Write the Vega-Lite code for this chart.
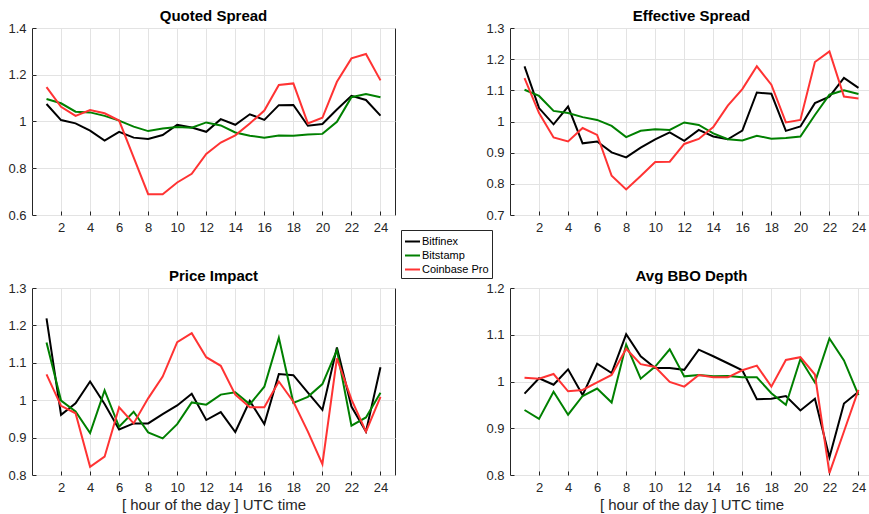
{
"$schema": "https://vega.github.io/schema/vega-lite/v6.json",
"background": "white",
"padding": {"left": 7, "top": 8, "right": 0, "bottom": 0},
"bounds": "flush",
"columns": 2,
"spacing": {"row": 73, "column": 115},
"datasets": {"d": [
{"m":"QS","h":1,"e":"Bitfinex","v":1.075},{"m":"QS","h":2,"e":"Bitfinex","v":1.006},{"m":"QS","h":3,"e":"Bitfinex","v":0.992},{"m":"QS","h":4,"e":"Bitfinex","v":0.961},{"m":"QS","h":5,"e":"Bitfinex","v":0.918},{"m":"QS","h":6,"e":"Bitfinex","v":0.956},{"m":"QS","h":7,"e":"Bitfinex","v":0.931},{"m":"QS","h":8,"e":"Bitfinex","v":0.925},{"m":"QS","h":9,"e":"Bitfinex","v":0.942},{"m":"QS","h":10,"e":"Bitfinex","v":0.986},{"m":"QS","h":11,"e":"Bitfinex","v":0.974},{"m":"QS","h":12,"e":"Bitfinex","v":0.956},{"m":"QS","h":13,"e":"Bitfinex","v":1.010},{"m":"QS","h":14,"e":"Bitfinex","v":0.986},{"m":"QS","h":15,"e":"Bitfinex","v":1.031},{"m":"QS","h":16,"e":"Bitfinex","v":1.007},{"m":"QS","h":17,"e":"Bitfinex","v":1.070},{"m":"QS","h":18,"e":"Bitfinex","v":1.071},{"m":"QS","h":19,"e":"Bitfinex","v":0.982},{"m":"QS","h":20,"e":"Bitfinex","v":0.989},{"m":"QS","h":21,"e":"Bitfinex","v":1.051},{"m":"QS","h":22,"e":"Bitfinex","v":1.110},{"m":"QS","h":23,"e":"Bitfinex","v":1.092},{"m":"QS","h":24,"e":"Bitfinex","v":1.025},
{"m":"QS","h":1,"e":"Bitstamp","v":1.096},{"m":"QS","h":2,"e":"Bitstamp","v":1.078},{"m":"QS","h":3,"e":"Bitstamp","v":1.042},{"m":"QS","h":4,"e":"Bitstamp","v":1.039},{"m":"QS","h":5,"e":"Bitstamp","v":1.024},{"m":"QS","h":6,"e":"Bitstamp","v":1.004},{"m":"QS","h":7,"e":"Bitstamp","v":0.978},{"m":"QS","h":8,"e":"Bitstamp","v":0.959},{"m":"QS","h":9,"e":"Bitstamp","v":0.970},{"m":"QS","h":10,"e":"Bitstamp","v":0.976},{"m":"QS","h":11,"e":"Bitstamp","v":0.973},{"m":"QS","h":12,"e":"Bitstamp","v":0.996},{"m":"QS","h":13,"e":"Bitstamp","v":0.983},{"m":"QS","h":14,"e":"Bitstamp","v":0.953},{"m":"QS","h":15,"e":"Bitstamp","v":0.939},{"m":"QS","h":16,"e":"Bitstamp","v":0.931},{"m":"QS","h":17,"e":"Bitstamp","v":0.940},{"m":"QS","h":18,"e":"Bitstamp","v":0.939},{"m":"QS","h":19,"e":"Bitstamp","v":0.944},{"m":"QS","h":20,"e":"Bitstamp","v":0.947},{"m":"QS","h":21,"e":"Bitstamp","v":0.999},{"m":"QS","h":22,"e":"Bitstamp","v":1.104},{"m":"QS","h":23,"e":"Bitstamp","v":1.118},{"m":"QS","h":24,"e":"Bitstamp","v":1.104},
{"m":"QS","h":1,"e":"Coinbase Pro","v":1.147},{"m":"QS","h":2,"e":"Coinbase Pro","v":1.063},{"m":"QS","h":3,"e":"Coinbase Pro","v":1.024},{"m":"QS","h":4,"e":"Coinbase Pro","v":1.049},{"m":"QS","h":5,"e":"Coinbase Pro","v":1.035},{"m":"QS","h":6,"e":"Coinbase Pro","v":1.004},{"m":"QS","h":7,"e":"Coinbase Pro","v":0.847},{"m":"QS","h":8,"e":"Coinbase Pro","v":0.689},{"m":"QS","h":9,"e":"Coinbase Pro","v":0.689},{"m":"QS","h":10,"e":"Coinbase Pro","v":0.739},{"m":"QS","h":11,"e":"Coinbase Pro","v":0.776},{"m":"QS","h":12,"e":"Coinbase Pro","v":0.861},{"m":"QS","h":13,"e":"Coinbase Pro","v":0.910},{"m":"QS","h":14,"e":"Coinbase Pro","v":0.941},{"m":"QS","h":15,"e":"Coinbase Pro","v":0.991},{"m":"QS","h":16,"e":"Coinbase Pro","v":1.047},{"m":"QS","h":17,"e":"Coinbase Pro","v":1.156},{"m":"QS","h":18,"e":"Coinbase Pro","v":1.163},{"m":"QS","h":19,"e":"Coinbase Pro","v":0.992},{"m":"QS","h":20,"e":"Coinbase Pro","v":1.016},{"m":"QS","h":21,"e":"Coinbase Pro","v":1.170},{"m":"QS","h":22,"e":"Coinbase Pro","v":1.270},{"m":"QS","h":23,"e":"Coinbase Pro","v":1.289},{"m":"QS","h":24,"e":"Coinbase Pro","v":1.176},
{"m":"ES","h":1,"e":"Bitfinex","v":1.177},{"m":"ES","h":2,"e":"Bitfinex","v":1.043},{"m":"ES","h":3,"e":"Bitfinex","v":0.991},{"m":"ES","h":4,"e":"Bitfinex","v":1.048},{"m":"ES","h":5,"e":"Bitfinex","v":0.930},{"m":"ES","h":6,"e":"Bitfinex","v":0.936},{"m":"ES","h":7,"e":"Bitfinex","v":0.901},{"m":"ES","h":8,"e":"Bitfinex","v":0.885},{"m":"ES","h":9,"e":"Bitfinex","v":0.916},{"m":"ES","h":10,"e":"Bitfinex","v":0.943},{"m":"ES","h":11,"e":"Bitfinex","v":0.965},{"m":"ES","h":12,"e":"Bitfinex","v":0.938},{"m":"ES","h":13,"e":"Bitfinex","v":0.973},{"m":"ES","h":14,"e":"Bitfinex","v":0.952},{"m":"ES","h":15,"e":"Bitfinex","v":0.943},{"m":"ES","h":16,"e":"Bitfinex","v":0.971},{"m":"ES","h":17,"e":"Bitfinex","v":1.093},{"m":"ES","h":18,"e":"Bitfinex","v":1.089},{"m":"ES","h":19,"e":"Bitfinex","v":0.970},{"m":"ES","h":20,"e":"Bitfinex","v":0.984},{"m":"ES","h":21,"e":"Bitfinex","v":1.059},{"m":"ES","h":22,"e":"Bitfinex","v":1.080},{"m":"ES","h":23,"e":"Bitfinex","v":1.140},{"m":"ES","h":24,"e":"Bitfinex","v":1.108},
{"m":"ES","h":1,"e":"Bitstamp","v":1.102},{"m":"ES","h":2,"e":"Bitstamp","v":1.082},{"m":"ES","h":3,"e":"Bitstamp","v":1.034},{"m":"ES","h":4,"e":"Bitstamp","v":1.027},{"m":"ES","h":5,"e":"Bitstamp","v":1.014},{"m":"ES","h":6,"e":"Bitstamp","v":1.005},{"m":"ES","h":7,"e":"Bitstamp","v":0.986},{"m":"ES","h":8,"e":"Bitstamp","v":0.950},{"m":"ES","h":9,"e":"Bitstamp","v":0.970},{"m":"ES","h":10,"e":"Bitstamp","v":0.975},{"m":"ES","h":11,"e":"Bitstamp","v":0.973},{"m":"ES","h":12,"e":"Bitstamp","v":0.997},{"m":"ES","h":13,"e":"Bitstamp","v":0.989},{"m":"ES","h":14,"e":"Bitstamp","v":0.962},{"m":"ES","h":15,"e":"Bitstamp","v":0.943},{"m":"ES","h":16,"e":"Bitstamp","v":0.939},{"m":"ES","h":17,"e":"Bitstamp","v":0.954},{"m":"ES","h":18,"e":"Bitstamp","v":0.945},{"m":"ES","h":19,"e":"Bitstamp","v":0.947},{"m":"ES","h":20,"e":"Bitstamp","v":0.952},{"m":"ES","h":21,"e":"Bitstamp","v":1.021},{"m":"ES","h":22,"e":"Bitstamp","v":1.086},{"m":"ES","h":23,"e":"Bitstamp","v":1.100},{"m":"ES","h":24,"e":"Bitstamp","v":1.088},
{"m":"ES","h":1,"e":"Coinbase Pro","v":1.139},{"m":"ES","h":2,"e":"Coinbase Pro","v":1.027},{"m":"ES","h":3,"e":"Coinbase Pro","v":0.949},{"m":"ES","h":4,"e":"Coinbase Pro","v":0.936},{"m":"ES","h":5,"e":"Coinbase Pro","v":0.979},{"m":"ES","h":6,"e":"Coinbase Pro","v":0.957},{"m":"ES","h":7,"e":"Coinbase Pro","v":0.826},{"m":"ES","h":8,"e":"Coinbase Pro","v":0.782},{"m":"ES","h":9,"e":"Coinbase Pro","v":0.825},{"m":"ES","h":10,"e":"Coinbase Pro","v":0.870},{"m":"ES","h":11,"e":"Coinbase Pro","v":0.871},{"m":"ES","h":12,"e":"Coinbase Pro","v":0.928},{"m":"ES","h":13,"e":"Coinbase Pro","v":0.944},{"m":"ES","h":14,"e":"Coinbase Pro","v":0.982},{"m":"ES","h":15,"e":"Coinbase Pro","v":1.051},{"m":"ES","h":16,"e":"Coinbase Pro","v":1.104},{"m":"ES","h":17,"e":"Coinbase Pro","v":1.177},{"m":"ES","h":18,"e":"Coinbase Pro","v":1.118},{"m":"ES","h":19,"e":"Coinbase Pro","v":0.997},{"m":"ES","h":20,"e":"Coinbase Pro","v":1.005},{"m":"ES","h":21,"e":"Coinbase Pro","v":1.191},{"m":"ES","h":22,"e":"Coinbase Pro","v":1.225},{"m":"ES","h":23,"e":"Coinbase Pro","v":1.080},{"m":"ES","h":24,"e":"Coinbase Pro","v":1.074},
{"m":"PI","h":1,"e":"Bitfinex","v":1.219},{"m":"PI","h":2,"e":"Bitfinex","v":0.961},{"m":"PI","h":3,"e":"Bitfinex","v":0.992},{"m":"PI","h":4,"e":"Bitfinex","v":1.050},{"m":"PI","h":5,"e":"Bitfinex","v":0.990},{"m":"PI","h":6,"e":"Bitfinex","v":0.922},{"m":"PI","h":7,"e":"Bitfinex","v":0.938},{"m":"PI","h":8,"e":"Bitfinex","v":0.938},{"m":"PI","h":9,"e":"Bitfinex","v":0.963},{"m":"PI","h":10,"e":"Bitfinex","v":0.986},{"m":"PI","h":11,"e":"Bitfinex","v":1.017},{"m":"PI","h":12,"e":"Bitfinex","v":0.947},{"m":"PI","h":13,"e":"Bitfinex","v":0.968},{"m":"PI","h":14,"e":"Bitfinex","v":0.915},{"m":"PI","h":15,"e":"Bitfinex","v":0.998},{"m":"PI","h":16,"e":"Bitfinex","v":0.936},{"m":"PI","h":17,"e":"Bitfinex","v":1.070},{"m":"PI","h":18,"e":"Bitfinex","v":1.067},{"m":"PI","h":19,"e":"Bitfinex","v":1.020},{"m":"PI","h":20,"e":"Bitfinex","v":0.974},{"m":"PI","h":21,"e":"Bitfinex","v":1.141},{"m":"PI","h":22,"e":"Bitfinex","v":0.983},{"m":"PI","h":23,"e":"Bitfinex","v":0.916},{"m":"PI","h":24,"e":"Bitfinex","v":1.088},
{"m":"PI","h":1,"e":"Bitstamp","v":1.154},{"m":"PI","h":2,"e":"Bitstamp","v":0.999},{"m":"PI","h":3,"e":"Bitstamp","v":0.970},{"m":"PI","h":4,"e":"Bitstamp","v":0.912},{"m":"PI","h":5,"e":"Bitstamp","v":1.026},{"m":"PI","h":6,"e":"Bitstamp","v":0.929},{"m":"PI","h":7,"e":"Bitstamp","v":0.969},{"m":"PI","h":8,"e":"Bitstamp","v":0.914},{"m":"PI","h":9,"e":"Bitstamp","v":0.898},{"m":"PI","h":10,"e":"Bitstamp","v":0.936},{"m":"PI","h":11,"e":"Bitstamp","v":0.994},{"m":"PI","h":12,"e":"Bitstamp","v":0.988},{"m":"PI","h":13,"e":"Bitstamp","v":1.015},{"m":"PI","h":14,"e":"Bitstamp","v":1.021},{"m":"PI","h":15,"e":"Bitstamp","v":0.989},{"m":"PI","h":16,"e":"Bitstamp","v":1.036},{"m":"PI","h":17,"e":"Bitstamp","v":1.167},{"m":"PI","h":18,"e":"Bitstamp","v":0.993},{"m":"PI","h":19,"e":"Bitstamp","v":1.009},{"m":"PI","h":20,"e":"Bitstamp","v":1.043},{"m":"PI","h":21,"e":"Bitstamp","v":1.134},{"m":"PI","h":22,"e":"Bitstamp","v":0.932},{"m":"PI","h":23,"e":"Bitstamp","v":0.954},{"m":"PI","h":24,"e":"Bitstamp","v":1.020},
{"m":"PI","h":1,"e":"Coinbase Pro","v":1.069},{"m":"PI","h":2,"e":"Coinbase Pro","v":0.985},{"m":"PI","h":3,"e":"Coinbase Pro","v":0.965},{"m":"PI","h":4,"e":"Coinbase Pro","v":0.822},{"m":"PI","h":5,"e":"Coinbase Pro","v":0.849},{"m":"PI","h":6,"e":"Coinbase Pro","v":0.981},{"m":"PI","h":7,"e":"Coinbase Pro","v":0.938},{"m":"PI","h":8,"e":"Coinbase Pro","v":1.005},{"m":"PI","h":9,"e":"Coinbase Pro","v":1.063},{"m":"PI","h":10,"e":"Coinbase Pro","v":1.155},{"m":"PI","h":11,"e":"Coinbase Pro","v":1.179},{"m":"PI","h":12,"e":"Coinbase Pro","v":1.115},{"m":"PI","h":13,"e":"Coinbase Pro","v":1.092},{"m":"PI","h":14,"e":"Coinbase Pro","v":1.015},{"m":"PI","h":15,"e":"Coinbase Pro","v":0.981},{"m":"PI","h":16,"e":"Coinbase Pro","v":0.981},{"m":"PI","h":17,"e":"Coinbase Pro","v":1.050},{"m":"PI","h":18,"e":"Coinbase Pro","v":0.996},{"m":"PI","h":19,"e":"Coinbase Pro","v":0.916},{"m":"PI","h":20,"e":"Coinbase Pro","v":0.829},{"m":"PI","h":21,"e":"Coinbase Pro","v":1.112},{"m":"PI","h":22,"e":"Coinbase Pro","v":1.002},{"m":"PI","h":23,"e":"Coinbase Pro","v":0.916},{"m":"PI","h":24,"e":"Coinbase Pro","v":1.009},
{"m":"BD","h":1,"e":"Bitfinex","v":0.974},{"m":"BD","h":2,"e":"Bitfinex","v":1.007},{"m":"BD","h":3,"e":"Bitfinex","v":0.993},{"m":"BD","h":4,"e":"Bitfinex","v":1.026},{"m":"BD","h":5,"e":"Bitfinex","v":0.971},{"m":"BD","h":6,"e":"Bitfinex","v":1.038},{"m":"BD","h":7,"e":"Bitfinex","v":1.018},{"m":"BD","h":8,"e":"Bitfinex","v":1.101},{"m":"BD","h":9,"e":"Bitfinex","v":1.054},{"m":"BD","h":10,"e":"Bitfinex","v":1.029},{"m":"BD","h":11,"e":"Bitfinex","v":1.029},{"m":"BD","h":12,"e":"Bitfinex","v":1.025},{"m":"BD","h":13,"e":"Bitfinex","v":1.068},{"m":"BD","h":14,"e":"Bitfinex","v":1.054},{"m":"BD","h":15,"e":"Bitfinex","v":1.039},{"m":"BD","h":16,"e":"Bitfinex","v":1.024},{"m":"BD","h":17,"e":"Bitfinex","v":0.962},{"m":"BD","h":18,"e":"Bitfinex","v":0.963},{"m":"BD","h":19,"e":"Bitfinex","v":0.969},{"m":"BD","h":20,"e":"Bitfinex","v":0.938},{"m":"BD","h":21,"e":"Bitfinex","v":0.963},{"m":"BD","h":22,"e":"Bitfinex","v":0.838},{"m":"BD","h":23,"e":"Bitfinex","v":0.953},{"m":"BD","h":24,"e":"Bitfinex","v":0.978},
{"m":"BD","h":1,"e":"Bitstamp","v":0.939},{"m":"BD","h":2,"e":"Bitstamp","v":0.920},{"m":"BD","h":3,"e":"Bitstamp","v":0.978},{"m":"BD","h":4,"e":"Bitstamp","v":0.929},{"m":"BD","h":5,"e":"Bitstamp","v":0.969},{"m":"BD","h":6,"e":"Bitstamp","v":0.985},{"m":"BD","h":7,"e":"Bitstamp","v":0.955},{"m":"BD","h":8,"e":"Bitstamp","v":1.079},{"m":"BD","h":9,"e":"Bitstamp","v":1.006},{"m":"BD","h":10,"e":"Bitstamp","v":1.032},{"m":"BD","h":11,"e":"Bitstamp","v":1.069},{"m":"BD","h":12,"e":"Bitstamp","v":1.011},{"m":"BD","h":13,"e":"Bitstamp","v":1.014},{"m":"BD","h":14,"e":"Bitstamp","v":1.011},{"m":"BD","h":15,"e":"Bitstamp","v":1.012},{"m":"BD","h":16,"e":"Bitstamp","v":1.009},{"m":"BD","h":17,"e":"Bitstamp","v":1.009},{"m":"BD","h":18,"e":"Bitstamp","v":0.975},{"m":"BD","h":19,"e":"Bitstamp","v":0.950},{"m":"BD","h":20,"e":"Bitstamp","v":1.048},{"m":"BD","h":21,"e":"Bitstamp","v":0.998},{"m":"BD","h":22,"e":"Bitstamp","v":1.092},{"m":"BD","h":23,"e":"Bitstamp","v":1.045},{"m":"BD","h":24,"e":"Bitstamp","v":0.971},
{"m":"BD","h":1,"e":"Coinbase Pro","v":1.008},{"m":"BD","h":2,"e":"Coinbase Pro","v":1.006},{"m":"BD","h":3,"e":"Coinbase Pro","v":1.016},{"m":"BD","h":4,"e":"Coinbase Pro","v":0.979},{"m":"BD","h":5,"e":"Coinbase Pro","v":0.982},{"m":"BD","h":6,"e":"Coinbase Pro","v":0.998},{"m":"BD","h":7,"e":"Coinbase Pro","v":1.014},{"m":"BD","h":8,"e":"Coinbase Pro","v":1.070},{"m":"BD","h":9,"e":"Coinbase Pro","v":1.037},{"m":"BD","h":10,"e":"Coinbase Pro","v":1.031},{"m":"BD","h":11,"e":"Coinbase Pro","v":0.999},{"m":"BD","h":12,"e":"Coinbase Pro","v":0.989},{"m":"BD","h":13,"e":"Coinbase Pro","v":1.014},{"m":"BD","h":14,"e":"Coinbase Pro","v":1.009},{"m":"BD","h":15,"e":"Coinbase Pro","v":1.009},{"m":"BD","h":16,"e":"Coinbase Pro","v":1.024},{"m":"BD","h":17,"e":"Coinbase Pro","v":1.034},{"m":"BD","h":18,"e":"Coinbase Pro","v":0.989},{"m":"BD","h":19,"e":"Coinbase Pro","v":1.046},{"m":"BD","h":20,"e":"Coinbase Pro","v":1.052},{"m":"BD","h":21,"e":"Coinbase Pro","v":1.015},{"m":"BD","h":22,"e":"Coinbase Pro","v":0.804},{"m":"BD","h":23,"e":"Coinbase Pro","v":0.893},{"m":"BD","h":24,"e":"Coinbase Pro","v":0.982}
]},
"concat": [
{"title": "Quoted Spread", "width": 363, "height": 187, "data": {"name": "d"},
 "transform": [{"filter": "datum.m === 'QS'"}],
 "mark": {"type": "line", "strokeWidth": 2},
 "encoding": {
  "x": {"field": "h", "type": "quantitative", "scale": {"domain": [0, 25], "nice": false}, "axis": {"values": [2,4,6,8,10,12,14,16,18,20,22,24], "title": null}},
  "y": {"field": "v", "type": "quantitative", "scale": {"domain": [0.6, 1.4], "nice": false, "zero": false}, "axis": {"values": [0.6,0.8,1,1.2,1.4], "format": "~g", "title": null}},
  "color": {"field": "e", "type": "nominal", "scale": {"domain": ["Bitfinex","Bitstamp","Coinbase Pro"], "range": ["#000000","#008000","#ff3333"]}, "legend": {"title": null, "orient": "none", "legendX": 369, "legendY": 202}}
 }},
{"title": "Effective Spread", "width": 363, "height": 187, "data": {"name": "d"},
 "transform": [{"filter": "datum.m === 'ES'"}],
 "mark": {"type": "line", "strokeWidth": 2},
 "encoding": {
  "x": {"field": "h", "type": "quantitative", "scale": {"domain": [0, 25], "nice": false}, "axis": {"values": [2,4,6,8,10,12,14,16,18,20,22,24], "title": null}},
  "y": {"field": "v", "type": "quantitative", "scale": {"domain": [0.7, 1.3], "nice": false, "zero": false}, "axis": {"values": [0.7,0.8,0.9,1,1.1,1.2,1.3], "format": "~g", "title": null}},
  "color": {"field": "e", "type": "nominal", "scale": {"domain": ["Bitfinex","Bitstamp","Coinbase Pro"], "range": ["#000000","#008000","#ff3333"]}, "legend": {"title": null, "orient": "none", "legendX": 369, "legendY": 202}}
 }},
{"title": "Price Impact", "width": 363, "height": 187, "data": {"name": "d"},
 "transform": [{"filter": "datum.m === 'PI'"}],
 "mark": {"type": "line", "strokeWidth": 2},
 "encoding": {
  "x": {"field": "h", "type": "quantitative", "scale": {"domain": [0, 25], "nice": false}, "axis": {"values": [2,4,6,8,10,12,14,16,18,20,22,24], "title": "[ hour of the day ] UTC time"}},
  "y": {"field": "v", "type": "quantitative", "scale": {"domain": [0.8, 1.3], "nice": false, "zero": false}, "axis": {"values": [0.8,0.9,1,1.1,1.2,1.3], "format": "~g", "title": null}},
  "color": {"field": "e", "type": "nominal", "scale": {"domain": ["Bitfinex","Bitstamp","Coinbase Pro"], "range": ["#000000","#008000","#ff3333"]}, "legend": {"title": null, "orient": "none", "legendX": 369, "legendY": 202}}
 }},
{"title": "Avg BBO Depth", "width": 363, "height": 187, "data": {"name": "d"},
 "transform": [{"filter": "datum.m === 'BD'"}],
 "mark": {"type": "line", "strokeWidth": 2},
 "encoding": {
  "x": {"field": "h", "type": "quantitative", "scale": {"domain": [0, 25], "nice": false}, "axis": {"values": [2,4,6,8,10,12,14,16,18,20,22,24], "title": "[ hour of the day ] UTC time"}},
  "y": {"field": "v", "type": "quantitative", "scale": {"domain": [0.8, 1.2], "nice": false, "zero": false}, "axis": {"values": [0.8,0.9,1,1.1,1.2], "format": "~g", "title": null}},
  "color": {"field": "e", "type": "nominal", "scale": {"domain": ["Bitfinex","Bitstamp","Coinbase Pro"], "range": ["#000000","#008000","#ff3333"]}, "legend": {"title": null, "orient": "none", "legendX": 369, "legendY": 202}}
 }}
],
"resolve": {"scale": {"y": "independent"}, "axis": {"y": "independent", "x": "independent"}},
"config": {
 "view": {"stroke": "#262626", "strokeWidth": 1},
 "font": "Liberation Sans",
 "title": {"font": "Liberation Sans", "fontSize": 15, "fontWeight": "bold", "color": "#000000", "offset": -2},
 "axis": {"domain": false, "grid": true, "gridColor": "#e3e3e3", "gridWidth": 1, "ticks": true, "tickSize": -4, "tickColor": "#262626", "labelFont": "Liberation Sans", "labelFontSize": 13, "labelColor": "#262626", "labelPadding": 10, "titleFont": "Liberation Sans", "titleFontSize": 15, "titleFontWeight": "normal", "titleColor": "#262626", "titlePadding": 3, "labelFlush": false},
 "legend": {"symbolType": "stroke", "symbolStrokeWidth": 2, "symbolSize": 225, "labelFont": "Liberation Sans", "labelFontSize": 11, "labelColor": "#000000", "strokeColor": "#262626", "fillColor": "#ffffff", "padding": 3, "rowPadding": 0, "labelOffset": 1, "cornerRadius": 0}
}
}
